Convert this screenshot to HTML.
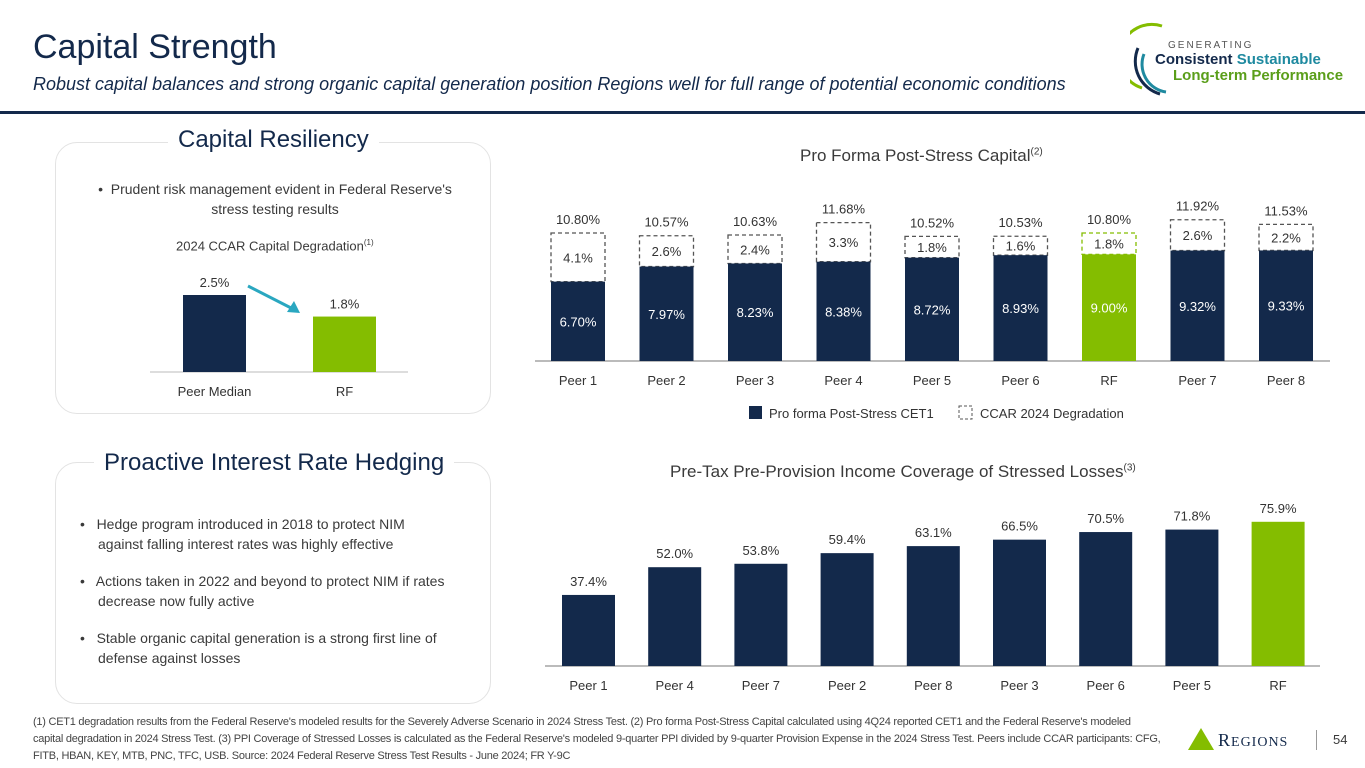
<!DOCTYPE html>
<html><head><meta charset="utf-8"><style>
body{margin:0;width:1365px;height:768px;background:#fff;font-family:"Liberation Sans",sans-serif;position:relative;overflow:hidden;color:#3a3a3a}
.abs{position:absolute}
svg text{font-family:"Liberation Sans",sans-serif}
</style></head><body>
<div class="abs" style="left:33px;top:28px;font-size:34px;color:#13294b">Capital Strength</div>
<div class="abs" style="left:33px;top:74px;font-size:18px;font-style:italic;color:#13294b">Robust capital balances and strong organic capital generation position Regions well for full range of potential economic conditions</div>
<div class="abs" style="left:0;top:111px;width:1365px;height:3px;background:#13294b"></div>
<svg class="abs" style="left:1130px;top:18px" width="40" height="80"><path d="M32 8 A30 30 0 0 0 12 70" stroke="#84bd00" stroke-width="3" fill="none"/><path d="M8 30 A34 34 0 0 0 30 76" stroke="#13294b" stroke-width="3" fill="none"/><path d="M14 36 A28 28 0 0 0 36 74" stroke="#1f8aa0" stroke-width="3" fill="none"/></svg>
<div class="abs" style="left:1168px;top:40px;font-size:10px;letter-spacing:2px;color:#555">GENERATING</div>
<div class="abs" style="left:1155px;top:51px;font-size:15px;font-weight:bold;color:#13294b">Consistent <span style="color:#1f8aa0">Sustainable</span></div>
<div class="abs" style="left:1173px;top:67px;font-size:15px;font-weight:bold;color:#5a9e1a">Long-term Performance</div>

<div class="abs" style="left:55px;top:142px;width:434px;height:270px;border:1px solid #e3e3e3;border-radius:22px"></div>
<div class="abs" style="left:168px;top:126px;padding:0 10px;background:#fff;font-size:24px;color:#13294b">Capital Resiliency</div>
<div class="abs" style="left:85px;top:179px;width:380px;font-size:14px;text-align:center;line-height:20px">• &nbsp;Prudent risk management evident in Federal Reserve's stress testing results</div>
<div class="abs" style="left:176px;top:238px;font-size:13px">2024 CCAR Capital Degradation<sup style="font-size:8px">(1)</sup></div>
<svg class="abs" id="small" style="left:0;top:0" width="500" height="420"></svg>

<div class="abs" style="left:55px;top:462px;width:434px;height:240px;border:1px solid #e3e3e3;border-radius:22px"></div>
<div class="abs" style="left:94px;top:449px;padding:0 10px;background:#fff;font-size:24px;color:#13294b">Proactive Interest Rate Hedging</div>
<div class="abs" style="left:80px;top:514px;width:385px;font-size:14px;line-height:20px">
<div style="padding-left:18px;text-indent:-18px;width:350px">•&nbsp;&nbsp; Hedge program introduced in 2018 to protect NIM against falling interest rates was highly effective</div>
<div style="padding-left:18px;text-indent:-18px;margin-top:17px">•&nbsp;&nbsp; Actions taken in 2022 and beyond to protect NIM if rates decrease now fully active</div>
<div style="padding-left:18px;text-indent:-18px;margin-top:17px">•&nbsp;&nbsp; Stable organic capital generation is a strong first line of defense against losses</div></div>

<div class="abs" style="left:800px;top:146px;font-size:17px">Pro Forma Post-Stress Capital<sup style="font-size:10px">(2)</sup></div>
<svg class="abs" id="c1" style="left:0;top:0" width="1365" height="430"></svg>
<div class="abs" style="left:670px;top:462px;font-size:17px">Pre-Tax Pre-Provision Income Coverage of Stressed Losses<sup style="font-size:10px">(3)</sup></div>
<svg class="abs" id="c2" style="left:0;top:0" width="1365" height="700"></svg>

<div class="abs" style="left:33px;top:714px;width:1130px;font-size:11px;line-height:17px;letter-spacing:-0.25px;color:#444">(1) CET1 degradation results from the Federal Reserve's modeled results for the Severely Adverse Scenario in 2024 Stress Test. (2) Pro forma Post-Stress Capital calculated using 4Q24 reported CET1 and the Federal Reserve's modeled capital degradation in 2024 Stress Test. (3) PPI Coverage of Stressed Losses is calculated as the Federal Reserve's modeled 9-quarter PPI divided by 9-quarter Provision Expense in the 2024 Stress Test. Peers include CCAR participants: CFG, FITB, HBAN, KEY, MTB, PNC, TFC, USB. Source: 2024 Federal Reserve Stress Test Results - June 2024; FR Y-9C</div>
<svg class="abs" style="left:1188px;top:728px" width="26" height="22"><polygon points="13,0 26,22 0,22" fill="#84bd00"/></svg>
<div class="abs" style="left:1218px;top:730px;font-size:18px;font-family:'Liberation Serif',serif;color:#13294b;letter-spacing:1px">R<span style="font-size:14px">EGIONS</span></div>
<div class="abs" style="left:1316px;top:730px;width:1px;height:20px;background:#999"></div>
<div class="abs" style="left:1333px;top:732px;font-size:13px">54</div>

<script>
const NS="http://www.w3.org/2000/svg";
function mk(p,t,a,txt){const e=document.createElementNS(NS,t);for(const k in a)e.setAttribute(k,a[k]);if(txt!==undefined)e.textContent=txt;p.appendChild(e);return e;}
const NAVY="#13294b",GREEN="#84bd00";

const smallCats=["Peer Median","RF"];
const smallVals=[2.5,1.8];
const s=document.getElementById('small');
const sy=v=>372-v*30.8;
mk(s,'line',{x1:150,x2:408,y1:372,y2:372,stroke:'#bbb'});
smallCats.forEach((c,i)=>{const x=183+i*130;
 let r=mk(s,'rect',{x:x,y:sy(smallVals[i]),width:63,height:372-sy(smallVals[i]),fill:i==1?GREEN:NAVY});
 
 
 mk(s,'text',{x:x+31.5,y:sy(smallVals[i])-8,'text-anchor':'middle','font-size':13,fill:'#333'},smallVals[i].toFixed(1)+'%');
 mk(s,'text',{x:x+31.5,y:396,'text-anchor':'middle','font-size':13,fill:'#333'},c);});
mk(s,'line',{x1:248,y1:286,x2:295,y2:310,stroke:'#2aa7c0','stroke-width':3});
mk(s,'polygon',{points:'300,313 287,312 294,301',fill:'#2aa7c0'});

const c1Cats=["Peer 1","Peer 2","Peer 3","Peer 4","Peer 5","Peer 6","RF","Peer 7","Peer 8"];
const c1Cet1=[6.70,7.97,8.23,8.38,8.72,8.93,9.00,9.32,9.33];
const c1Deg=[4.1,2.6,2.4,3.3,1.8,1.6,1.8,2.6,2.2];
const c1Tot=["10.80%","10.57%","10.63%","11.68%","10.52%","10.53%","10.80%","11.92%","11.53%"];
const g1=document.getElementById('c1');
const y1=v=>361-v*11.85, x1=i=>551+i*88.5;
mk(g1,'line',{x1:535,x2:1330,y1:361,y2:361,stroke:'#777'});
c1Cats.forEach((c,i)=>{const x=x1(i),rf=c=="RF";
 const top=y1(c1Cet1[i]),dt=y1(c1Cet1[i]+c1Deg[i]);
 let d=mk(g1,'rect',{x:x,y:dt,width:54,height:top-dt,fill:'none',stroke:rf?GREEN:'#555','stroke-dasharray':'4,3','stroke-width':1.3});
 
 
 let b=mk(g1,'rect',{x:x,y:top,width:54,height:361-top,fill:rf?GREEN:NAVY});
 
 
 mk(g1,'text',{x:x+27,y:(top+361)/2+5,'text-anchor':'middle','font-size':13,fill:'#fff'},c1Cet1[i].toFixed(2)+'%');
 mk(g1,'text',{x:x+27,y:(top+dt)/2+5,'text-anchor':'middle','font-size':13,fill:'#333'},c1Deg[i].toFixed(1)+'%');
 mk(g1,'text',{x:x+27,y:dt-9,'text-anchor':'middle','font-size':13,fill:'#333'},c1Tot[i]);
 mk(g1,'text',{x:x+27,y:385,'text-anchor':'middle','font-size':13,fill:'#333'},c);});
mk(g1,'rect',{x:749,y:406,width:13,height:13,fill:NAVY});
mk(g1,'text',{x:769,y:418,'font-size':13,fill:'#333'},'Pro forma Post-Stress CET1');
mk(g1,'rect',{x:959,y:406,width:13,height:13,fill:'none',stroke:'#555','stroke-dasharray':'3,2'});
mk(g1,'text',{x:980,y:418,'font-size':13,fill:'#333'},'CCAR 2024 Degradation');

const c2Cats=["Peer 1","Peer 4","Peer 7","Peer 2","Peer 8","Peer 3","Peer 6","Peer 5","RF"];
const c2Vals=[37.4,52.0,53.8,59.4,63.1,66.5,70.5,71.8,75.9];
const g2=document.getElementById('c2');
const y2=v=>666-v*1.9, x2=i=>562+i*86.2;
mk(g2,'line',{x1:545,x2:1320,y1:666,y2:666,stroke:'#777'});
c2Cats.forEach((c,i)=>{const x=x2(i),t=y2(c2Vals[i]);
 let b=mk(g2,'rect',{x:x,y:t,width:53,height:666-t,fill:c=="RF"?GREEN:NAVY});
 
 
 mk(g2,'text',{x:x+26.5,y:t-9,'text-anchor':'middle','font-size':13,fill:'#333'},c2Vals[i].toFixed(1)+'%');
 mk(g2,'text',{x:x+26.5,y:690,'text-anchor':'middle','font-size':13,fill:'#333'},c);});
</script>
</body></html>
